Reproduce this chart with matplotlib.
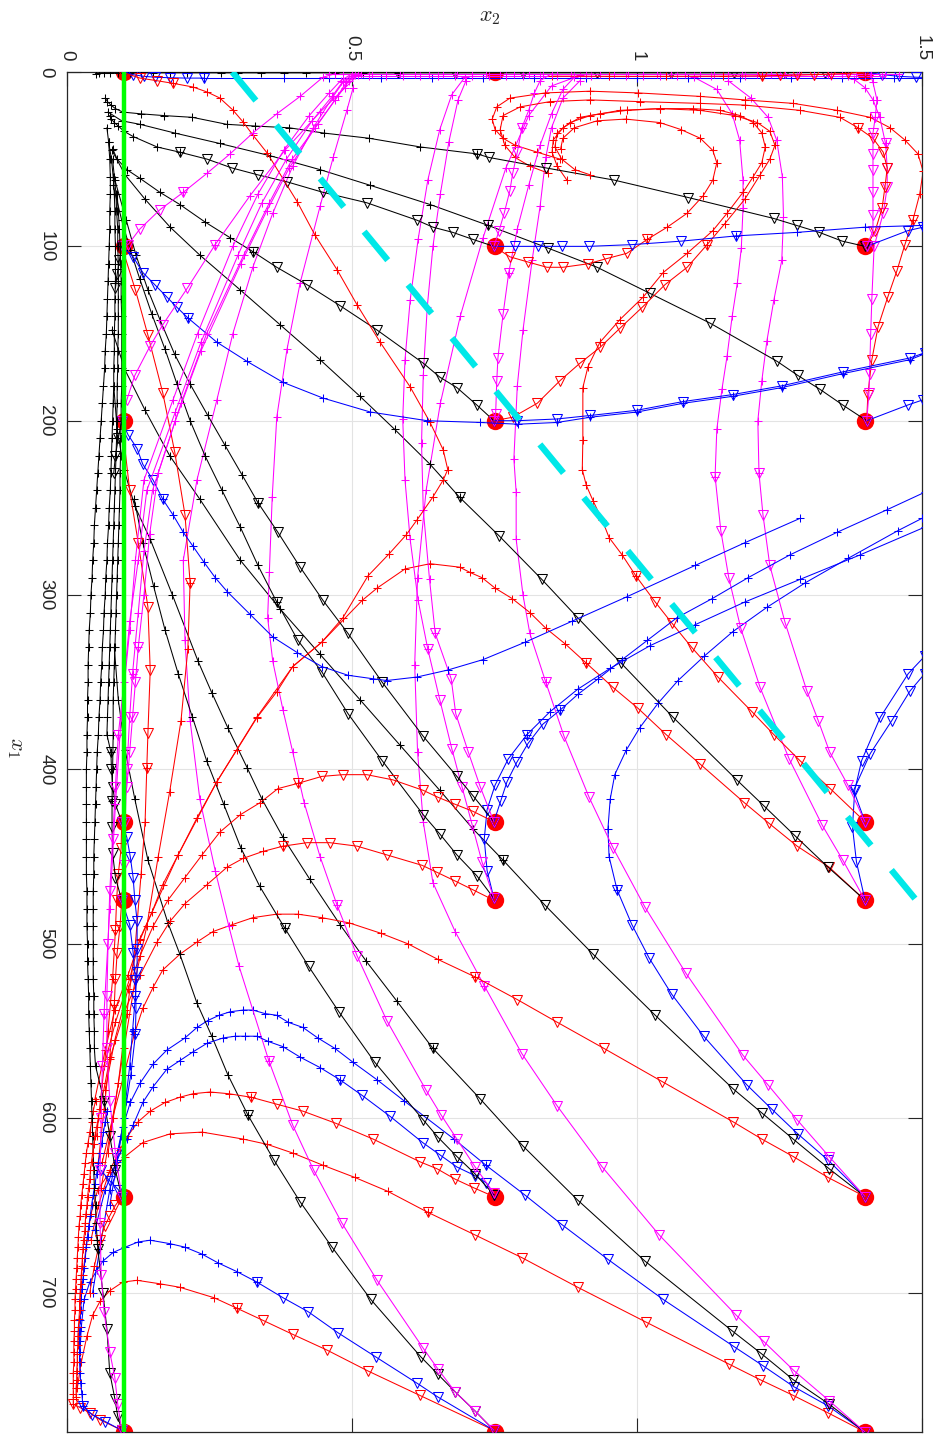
import matplotlib.pyplot as plt
import numpy as np

# start points (x1, x2): every combination is marked with a red dot
start_x1 = [0, 100, 200, 430, 475, 645, 780]
start_x2 = [0.1, 0.75, 1.4]

green_x1 = [0, 780]
green_x2 = [0.1, 0.1]
cyan_x1 = [0, 475]
cyan_x2 = [0.29, 1.49]

# ---- trajectories: (x1, x2) points, "_v" part drawn with triangles, "_p" part with plus ----
# column x2 = 1.4
a780_red_v = [(780, 1.40), (769, 1.335), (759, 1.274), (750, 1.216), (741, 1.161), (717, 1.016), (697, 0.896), (680, 0.798), (667, 0.716), (654, 0.633)]
a780_red_p = [(654, 0.633), (642, 0.563), (634, 0.505), (627, 0.449), (620, 0.396), (615, 0.351), (612, 0.309), (608, 0.237), (609, 0.181), (614, 0.133), (622, 0.102), (631, 0.075), (641, 0.054), (655, 0.042), (672, 0.034), (690, 0.028)]
a780_blue_v = [(780, 1.40), (765, 1.335), (754, 1.275), (742, 1.221), (731, 1.170), (704, 1.046), (681, 0.949), (661, 0.868), (644, 0.803), (627, 0.735)]
a780_blue_p = [(627, 0.735), (612, 0.679), (590, 0.591), (578, 0.544), (568, 0.502), (560, 0.470), (554, 0.440), (548, 0.414), (545, 0.388), (541, 0.368), (540, 0.347), (538, 0.326), (538, 0.309), (539, 0.286), (541, 0.267), (544, 0.247), (548, 0.228), (554, 0.207), (561, 0.175), (569, 0.151), (580, 0.128), (591, 0.111), (605, 0.098), (620, 0.088), (641, 0.075), (670, 0.060), (700, 0.045)]
a780_blk_v = [(780, 1.40), (764, 1.337), (750, 1.274), (735, 1.218), (722, 1.167), (682, 1.014), (647, 0.896), (616, 0.800), (589, 0.725), (560, 0.642)]
a780_blk_p = [(560, 0.642), (533, 0.579), (510, 0.525), (489, 0.479), (463, 0.426), (439, 0.379), (417, 0.342), (399, 0.316), (376, 0.282), (356, 0.254), (338, 0.230), (300, 0.185), (268, 0.146), (249, 0.119), (228, 0.100), (205, 0.088), (180, 0.082)]
a780_mag_v = [(780, 1.40), (762, 1.337), (745, 1.276), (728, 1.222), (713, 1.174), (667, 1.039), (628, 0.939), (593, 0.860), (563, 0.798), (524, 0.732)]
a780_mag_p = [(524, 0.732), (493, 0.681), (465, 0.642), (430, 0.625), (390, 0.615), (340, 0.610), (290, 0.615), (240, 0.630), (190, 0.655), (140, 0.690), (95, 0.730), (55, 0.770), (25, 0.810), (8, 0.850), (2, 0.900)]

a645_red_v = [(645, 1.40), (634, 1.335), (622, 1.274), (612, 1.219), (602, 1.168), (579, 1.044), (560, 0.942), (545, 0.860), (532, 0.790), (519, 0.716)]
a645_red_p = [(519, 0.716), (509, 0.651), (500, 0.598), (494, 0.551), (488, 0.495), (485, 0.447), (483, 0.405), (483, 0.368), (485, 0.326), (489, 0.290), (493, 0.256), (499, 0.228), (506, 0.198), (515, 0.168), (525, 0.151), (537, 0.133), (552, 0.118), (575, 0.100), (600, 0.080), (625, 0.062)]
a645_blue_v = [(645, 1.40), (624, 1.335), (609, 1.282), (595, 1.237), (581, 1.193), (553, 1.117), (529, 1.061), (508, 1.021), (489, 0.991), (469, 0.965)]
a645_blue_p = [(469, 0.965), (450, 0.951), (434, 0.949), (417, 0.953), (403, 0.961), (389, 0.981), (376, 1.005), (362, 1.037), (349, 1.072), (335, 1.118), (321, 1.168), (307, 1.228), (293, 1.295), (279, 1.370), (263, 1.458), (256, 1.500)]
a645_blk_v = [(645, 1.40), (629, 1.337), (612, 1.274), (597, 1.219), (583, 1.168), (541, 1.032), (506, 0.923), (478, 0.839), (452, 0.765)]
a645_blk_p = [(452, 0.765), (434, 0.712), (412, 0.654), (386, 0.584), (360, 0.514), (334, 0.444), (308, 0.374), (280, 0.304), (245, 0.233), (220, 0.180), (194, 0.137), (171, 0.102), (148, 0.079)]
a645_mag_v = [(645, 1.40), (622, 1.337), (601, 1.281), (581, 1.230), (564, 1.186), (517, 1.086), (479, 1.014), (445, 0.958), (416, 0.916), (381, 0.872), (350, 0.840)]
a645_mag_p = [(350, 0.840), (322, 0.812), (300, 0.800), (268, 0.788), (241, 0.788), (222, 0.784), (180, 0.790), (148, 0.800), (108, 0.816), (77, 0.830), (49, 0.840), (32, 0.850), (15, 0.870), (5, 0.900)]

a475_red_v = [(475, 1.40), (456, 1.337), (444, 1.281), (431, 1.232), (419, 1.188), (397, 1.111), (380, 1.051), (365, 1.002), (353, 0.958), (339, 0.911)]
a475_red_p = [(339, 0.911), (328, 0.874), (319, 0.840), (310, 0.812), (302, 0.781), (296, 0.751), (290, 0.728), (287, 0.707), (284, 0.689), (282, 0.637), (285, 0.593), (296, 0.544), (303, 0.518), (327, 0.447), (341, 0.396), (370, 0.333), (407, 0.263), (449, 0.195), (497, 0.128), (520, 0.110), (545, 0.085), (570, 0.065)]
a475_blue_v = [(475, 1.40), (453, 1.385), (433, 1.378), (412, 1.382), (395, 1.394), (370, 1.427), (345, 1.476), (335, 1.505)]
a475_blk_v = [(475, 1.40), (456, 1.335), (438, 1.277), (421, 1.223), (406, 1.175), (370, 1.063), (339, 0.972), (313, 0.896), (291, 0.833), (266, 0.758), (244, 0.689)]
a475_blk_p = [(244, 0.689), (225, 0.637), (205, 0.575), (186, 0.514), (165, 0.444), (145, 0.374), (125, 0.304), (105, 0.233), (89, 0.181), (73, 0.137), (59, 0.102), (45, 0.079)]
a475_mag_v = [(475, 1.40), (452, 1.361), (432, 1.325), (394, 1.267), (353, 1.216), (319, 1.182), (290, 1.161), (263, 1.147), (232, 1.137)]
a475_mag_p = [(232, 1.137), (205, 1.140), (182, 1.149), (163, 1.158), (140, 1.167), (121, 1.176), (101, 1.183), (78, 1.186), (62, 1.186), (39, 1.180), (24, 1.167), (10, 1.140), (3, 1.100)]

a430_red_v = [(430, 1.40), (411, 1.339), (395, 1.286), (380, 1.240), (367, 1.202), (347, 1.142), (330, 1.096), (316, 1.061), (304, 1.032), (289, 0.998)]
a430_red_p = [(289, 0.998), (277, 0.974), (267, 0.951), (257, 0.939), (246, 0.923), (237, 0.911), (228, 0.904), (211, 0.905), (181, 0.905), (169, 0.914), (155, 0.935), (142, 0.970), (129, 1.011), (115, 1.046), (104, 1.088), (91, 1.133), (81, 1.158), (69, 1.186), (60, 1.204), (52, 1.219), (43, 1.225), (35, 1.219), (29, 1.204), (25, 1.181), (22, 1.146), (21, 1.098), (21, 1.040), (22, 0.982), (24, 0.935), (26, 0.900), (32, 0.870), (39, 0.853), (46, 0.851), (54, 0.860), (62, 0.877)]
a430_blue_v = [(430, 1.40), (412, 1.380), (391, 1.409), (372, 1.447), (355, 1.479), (345, 1.505)]
a430_mag_v = [(430, 1.40), (409, 1.370), (390, 1.338), (372, 1.318), (355, 1.298), (316, 1.260), (283, 1.233), (254, 1.221), (230, 1.214)]
a430_mag_p = [(230, 1.214), (200, 1.212), (177, 1.219), (154, 1.228), (131, 1.240), (108, 1.254), (83, 1.257), (60, 1.255), (39, 1.245), (26, 1.230), (15, 1.200), (5, 1.160)]

a200_red_v = [(200, 1.403), (185, 1.405), (165, 1.412), (146, 1.423), (129, 1.440), (114, 1.456), (99, 1.470), (85, 1.484)]
a200_red_p = [(85, 1.484), (70, 1.496), (57, 1.502), (47, 1.493), (39, 1.470), (32, 1.444), (26, 1.409), (22, 1.351), (18, 1.274), (16, 1.189), (14, 1.111), (12, 1.002), (11, 0.918), (12, 0.839), (15, 0.777), (20, 0.754), (27, 0.746), (33, 0.751), (38, 0.765), (42, 0.786), (46, 0.825), (50, 0.865)]
a200_blue_v = [(200, 1.403), (191, 1.475), (188, 1.502)]
a200_blk_v = [(200, 1.403), (191, 1.361), (182, 1.321), (174, 1.282), (166, 1.246), (144, 1.128), (127, 1.023), (112, 0.930), (101, 0.844), (88, 0.739)]
a200_blk_p = [(88, 0.739), (76, 0.637), (65, 0.532), (56, 0.444), (48, 0.356), (41, 0.268), (35, 0.189), (30, 0.128), (28, 0.096), (23, 0.072)]
a200_mag_v = [(200, 1.403), (184, 1.407), (173, 1.408), (150, 1.410), (130, 1.412), (100, 1.416), (81, 1.432), (66, 1.439), (55, 1.439), (41, 1.436)]
a200_mag_p = [(41, 1.436), (26, 1.426), (16, 1.414), (9, 1.400), (4, 1.380)]

a100_red_v = [(100, 1.403), (91, 1.418), (78, 1.430), (66, 1.435), (55, 1.439), (46, 1.432), (38, 1.414), (32, 1.388)]
a100_red_p = [(32, 1.388), (26, 1.356), (22, 1.286), (19, 1.190), (18, 1.111), (17, 1.005), (16, 0.918), (17, 0.847), (20, 0.795), (25, 0.765), (33, 0.760), (42, 0.768), (49, 0.786), (54, 0.812), (58, 0.844)]
a100_blue_v = [(100, 1.403), (91, 1.475), (89, 1.502)]
a100_blk_v = [(100, 1.40), (97, 1.36), (92, 1.32), (88, 1.28), (84, 1.24), (72, 1.09), (62, 0.96), (55, 0.84), (49, 0.74), (47, 0.72)]
a100_blk_p = [(47, 0.72), (43, 0.62), (38, 0.53), (35, 0.45), (32, 0.39), (31, 0.33), (30, 0.28), (26, 0.22), (25, 0.17), (24, 0.13), (23, 0.098), (21, 0.085), (19, 0.077), (17, 0.071), (15, 0.067)]
a100_mag_v = [(100, 1.403), (91, 1.414), (82, 1.414), (69, 1.414), (56, 1.414), (47, 1.414), (35, 1.414), (26, 1.418)]
a100_mag_p = [(26, 1.418), (16, 1.421), (6, 1.414), (1, 1.409)]

# along the top edge (x1 close to 0)
top_blk_v = [(0, 1.40), (0.3, 1.33), (0.4, 1.26), (0.5, 1.17), (0.5, 1.06), (0.5, 0.93), (0.5, 0.80), (0.5, 0.68), (0.5, 0.58)]
top_blk_p = [(0.5, 0.58), (0.5, 0.52), (0.5, 0.47), (0.5, 0.42), (0.5, 0.38), (0.5, 0.34), (0.5, 0.30), (0.5, 0.27), (0.5, 0.24), (0.5, 0.21), (0.5, 0.18), (0.5, 0.15), (0.5, 0.13), (0.5, 0.11), (0.5, 0.09), (0.6, 0.075), (0.7, 0.065), (0.8, 0.057), (1.0, 0.05)]
top_blue_v = [(0, 0.10), (1.5, 0.115), (2.5, 0.135), (3.0, 0.155), (3.3, 0.18), (3.5, 0.21), (3.5, 0.24)]
top_blue_p = [(3.5, 0.24), (3.5, 0.30), (3.5, 0.38), (3.5, 0.46), (3.5, 0.55), (3.5, 0.64), (3.5, 0.73), (3.5, 0.82), (3.5, 0.91), (3.5, 1.00), (3.5, 1.09), (3.5, 1.18), (3.5, 1.27), (3.5, 1.36), (3.5, 1.45), (3.5, 1.52)]
top_blue2_v = [(0, 1.40), (1.5, 1.43), (2.5, 1.46), (3.0, 1.49), (3.2, 1.52)]
top_mag1_p = [(1.0, 0.46), (1.0, 0.485), (1.0, 0.51), (1.0, 0.535), (1.0, 0.56), (1.0, 0.585), (1.0, 0.61), (1.0, 0.635), (1.0, 0.66), (1.0, 0.685), (1.0, 0.71), (1.0, 0.735), (1.0, 0.76), (1.0, 0.785), (1.0, 0.81), (1.0, 0.835), (1.0, 0.86), (1.0, 0.885), (1.0, 0.91), (1.0, 0.935), (1.0, 0.96), (1.0, 0.985), (1.0, 1.01), (1.0, 1.035), (1.0, 1.06), (1.0, 1.085), (1.0, 1.11), (1.0, 1.135), (1.0, 1.16), (1.0, 1.185), (1.0, 1.21), (1.0, 1.235), (1.0, 1.26), (1.0, 1.285), (1.0, 1.31), (1.0, 1.335), (1.0, 1.36), (1.0, 1.385), (1.0, 1.41), (1.0, 1.435), (1.0, 1.46)]
top_mag2_p = [(2.3, 0.50), (2.3, 0.53), (2.3, 0.56), (2.3, 0.59), (2.3, 0.62), (2.3, 0.65), (2.3, 0.68), (2.3, 0.71), (2.3, 0.74), (2.3, 0.77), (2.3, 0.80), (2.3, 0.83), (2.3, 0.86), (2.3, 0.89), (2.3, 0.92), (2.3, 0.95), (2.3, 0.98), (2.3, 1.01), (2.3, 1.04), (2.3, 1.07), (2.3, 1.10), (2.3, 1.13), (2.3, 1.16), (2.3, 1.19), (2.3, 1.22), (2.3, 1.25), (2.3, 1.28), (2.3, 1.31), (2.3, 1.34), (2.3, 1.37), (2.3, 1.40), (2.3, 1.43)]
top_red_v = [(0, 1.40), (0.8, 1.37), (1.2, 1.34), (1.5, 1.31), (1.8, 1.28), (2.0, 1.25), (2.2, 1.22)]
top_red_p = [(2.2, 1.22), (2.4, 1.15), (2.5, 1.05), (2.5, 0.95), (2.4, 0.85)]

# column x2 = 0.75
b780_red_v = [(779, 0.749), (759, 0.619), (745, 0.528), (733, 0.456), (724, 0.396), (716, 0.344), (709, 0.298)]
b780_red_p = [(709, 0.298), (703, 0.258), (697, 0.198), (695, 0.163), (693, 0.123), (694, 0.098), (699, 0.075), (705, 0.058), (713, 0.045), (725, 0.035), (740, 0.025), (755, 0.018)]
b780_blue_v = [(779, 0.749), (760, 0.651), (752, 0.614), (737, 0.542), (723, 0.475), (711, 0.423), (703, 0.379), (694, 0.333)]
b780_blue_p = [(694, 0.333), (688, 0.298), (683, 0.265), (678, 0.237), (674, 0.207), (672, 0.181), (670, 0.146), (671, 0.125), (674, 0.102), (677, 0.081), (682, 0.063), (687, 0.053), (694, 0.040), (704, 0.030), (720, 0.025), (740, 0.022)]
b780_blk_v = [(779, 0.749), (768, 0.716), (757, 0.681), (747, 0.651), (737, 0.621), (704, 0.533), (674, 0.465), (648, 0.409), (624, 0.363), (598, 0.317)]
b780_blk_p = [(598, 0.317), (575, 0.282), (553, 0.254), (534, 0.228), (506, 0.198), (488, 0.177), (452, 0.142), (417, 0.119), (389, 0.102), (360, 0.090), (330, 0.083)]
b780_mag_v = [(779, 0.749), (768, 0.716), (757, 0.681), (744, 0.651), (732, 0.625), (693, 0.544), (660, 0.482), (630, 0.433), (604, 0.396), (567, 0.354)]
b780_mag_p = [(567, 0.354), (513, 0.302), (490, 0.284), (458, 0.260), (417, 0.233), (372, 0.216), (326, 0.207), (280, 0.204), (234, 0.228), (188, 0.263), (150, 0.291), (112, 0.326), (81, 0.361), (54, 0.396), (32, 0.432), (14, 0.467), (6, 0.484), (2, 0.505)]

b645_red_v = [(645, 0.749), (640, 0.714), (635, 0.681), (629, 0.649), (625, 0.619), (612, 0.537), (603, 0.472), (596, 0.414), (592, 0.368), (588, 0.323)]
b645_red_p = [(588, 0.323), (586, 0.284), (585, 0.251), (586, 0.221), (588, 0.198), (591, 0.172), (596, 0.146), (602, 0.125), (610, 0.107), (618, 0.093), (630, 0.075), (650, 0.055), (670, 0.042)]
b645_blue_v = [(644, 0.749), (637, 0.735), (633, 0.716), (628, 0.684), (621, 0.654), (614, 0.624), (599, 0.567), (587, 0.518), (578, 0.479)]
b645_blue_p = [(578, 0.479), (571, 0.444), (565, 0.409), (559, 0.379), (556, 0.353), (553, 0.333), (553, 0.312), (553, 0.295), (554, 0.274), (557, 0.246), (562, 0.221), (567, 0.198), (572, 0.175), (582, 0.151), (591, 0.133), (604, 0.116), (612, 0.105), (624, 0.088), (641, 0.067), (664, 0.049)]
b645_blk_v = [(644, 0.749), (632, 0.716), (622, 0.684), (611, 0.651), (601, 0.625), (568, 0.540), (539, 0.477), (513, 0.424), (491, 0.382)]
b645_blk_p = [(491, 0.382), (467, 0.338), (445, 0.305), (420, 0.275), (395, 0.245), (370, 0.220), (345, 0.195), (320, 0.172), (295, 0.152), (270, 0.133), (245, 0.118)]
b645_mag_v = [(643, 0.749), (628, 0.716), (612, 0.684), (598, 0.656), (584, 0.630), (544, 0.561), (507, 0.509), (478, 0.474)]
b645_mag_p = [(478, 0.474), (450, 0.444), (419, 0.416), (390, 0.396), (366, 0.379), (338, 0.361), (313, 0.352), (287, 0.355), (244, 0.360), (198, 0.368), (159, 0.386), (121, 0.409), (77, 0.444), (49, 0.467), (22, 0.491), (9, 0.502)]

b475_red_v = [(475, 0.749), (469, 0.712), (464, 0.681), (459, 0.649), (455, 0.623), (449, 0.561), (444, 0.509), (442, 0.461), (442, 0.421), (444, 0.379)]
b475_red_p = [(444, 0.379), (447, 0.344), (451, 0.309), (456, 0.281), (466, 0.246), (477, 0.207), (487, 0.181), (499, 0.158), (518, 0.128), (538, 0.102), (566, 0.075), (595, 0.058)]
b475_blue_v = [(474, 0.749), (458, 0.737), (440, 0.732), (423, 0.737), (409, 0.751), (394, 0.774), (380, 0.807)]
b475_blue_p = [(380, 0.807), (367, 0.847), (354, 0.896), (342, 0.953), (329, 1.023), (317, 1.102), (304, 1.189), (291, 1.286), (277, 1.391), (261, 1.505)]
b475_blk_v = [(474, 0.749), (461, 0.719), (449, 0.684), (437, 0.654), (426, 0.625), (395, 0.553), (368, 0.493), (344, 0.447), (326, 0.405), (304, 0.368)]
b475_blk_p = [(304, 0.368), (283, 0.335), (261, 0.304), (240, 0.272), (220, 0.242), (200, 0.216), (179, 0.193), (159, 0.172), (139, 0.149), (119, 0.128), (102, 0.111), (85, 0.096), (65, 0.081)]
b475_mag_v = [(474, 0.749), (453, 0.728), (432, 0.711), (410, 0.693), (388, 0.675), (360, 0.654), (331, 0.633)]
b475_mag_p = [(331, 0.633), (303, 0.616), (268, 0.602), (234, 0.593), (199, 0.589), (165, 0.593), (131, 0.602), (96, 0.616), (62, 0.633), (33, 0.654), (13, 0.675), (3, 0.698)]

b430_red_v = [(430, 0.749), (424, 0.712), (420, 0.681), (416, 0.651), (412, 0.625), (406, 0.572), (403, 0.526), (403, 0.484), (404, 0.447), (408, 0.405)]
b430_red_p = [(408, 0.405), (411, 0.370), (419, 0.339), (426, 0.304), (436, 0.268), (449, 0.237), (462, 0.207), (475, 0.177), (490, 0.151), (507, 0.128), (526, 0.107), (555, 0.084), (584, 0.067)]
b430_blue_v = [(430, 0.749), (418, 0.761), (407, 0.772), (396, 0.789), (385, 0.809), (374, 0.835), (366, 0.865)]
b430_blue_p = [(366, 0.865), (357, 0.896), (348, 0.932), (337, 0.974), (326, 1.018), (313, 1.070), (302, 1.132), (290, 1.195), (277, 1.268), (264, 1.351), (251, 1.439), (241, 1.505)]
b430_blk_v = [(430, 0.749), (415, 0.712), (404, 0.684), (381, 0.625), (350, 0.553), (322, 0.493), (303, 0.449), (284, 0.409), (264, 0.370), (247, 0.335)]
b430_blk_p = [(247, 0.335), (231, 0.307), (214, 0.277), (197, 0.247), (179, 0.216), (162, 0.189), (142, 0.163), (125, 0.142), (105, 0.121), (85, 0.104), (62, 0.084)]
b430_mag_v = [(430, 0.749), (410, 0.725), (390, 0.704), (368, 0.682), (348, 0.674), (322, 0.646)]
b430_mag_p = [(322, 0.646), (291, 0.636), (251, 0.625), (213, 0.622), (174, 0.625), (135, 0.632), (100, 0.642), (70, 0.655), (40, 0.670), (16, 0.686), (5, 0.700)]

b200_red_v = [(200, 0.749), (198, 0.782), (190, 0.825), (177, 0.865), (167, 0.900), (158, 0.935), (147, 0.970), (135, 1.009), (122, 1.049), (112, 1.088), (99, 1.123)]
b200_red_p = [(99, 1.123), (87, 1.154), (73, 1.189), (59, 1.216), (50, 1.233), (42, 1.242), (34, 1.233), (29, 1.211), (25, 1.172), (22, 1.111), (21, 1.040), (22, 0.970), (25, 0.918), (29, 0.882), (35, 0.860), (43, 0.856), (50, 0.868), (56, 0.891), (59, 0.918)]
b200_blue_v = [(200, 0.749), (200, 0.790), (199, 0.860), (197, 0.918), (194, 1.000), (189, 1.081), (185, 1.168), (180, 1.254), (172, 1.361), (164, 1.479), (161, 1.505)]
b200_blk_v = [(200, 0.749), (191, 0.719), (181, 0.684), (175, 0.654), (167, 0.625), (148, 0.544), (134, 0.479), (122, 0.421), (112, 0.368), (103, 0.326)]
b200_blk_p = [(103, 0.326), (95, 0.286), (86, 0.242), (76, 0.198), (69, 0.163), (61, 0.128), (56, 0.105), (50, 0.088), (44, 0.080)]
b200_mag_v = [(200, 0.749), (196, 0.752), (177, 0.754), (164, 0.756), (139, 0.765), (115, 0.775)]
b200_mag_p = [(115, 0.775), (90, 0.790), (65, 0.810), (42, 0.830), (24, 0.850), (10, 0.870), (3, 0.890)]

b100_red_v = [(100, 0.749), (106, 0.777), (109, 0.809), (112, 0.842), (112, 0.870), (110, 0.914), (107, 0.947), (104, 0.982), (96, 1.018)]
b100_red_p = [(96, 1.018), (89, 1.053), (81, 1.088), (71, 1.116), (62, 1.133), (52, 1.140), (45, 1.133), (38, 1.111), (33, 1.077), (29, 1.040), (27, 0.980), (28, 0.930), (32, 0.890), (38, 0.870), (44, 0.866)]
b100_blue_v = [(100, 0.749), (100, 0.786), (100, 0.827), (100, 0.868), (100, 0.915), (99, 0.991), (97, 1.078), (94, 1.174)]
b100_blue_p = [(94, 1.174), (92, 1.280), (89, 1.400), (88, 1.500)]
b100_blk_v = [(100, 0.749), (96, 0.712), (92, 0.677), (89, 0.642), (85, 0.614), (75, 0.526), (69, 0.449), (63, 0.386), (59, 0.335), (55, 0.289), (50, 0.246), (46, 0.198)]
b100_blk_p = [(46, 0.198), (43, 0.158), (37, 0.116), (34, 0.100), (31, 0.090), (29, 0.083), (27, 0.078), (25, 0.075)]
b100_mag_v = [(100, 0.749), (91, 0.758), (81, 0.767), (68, 0.777), (58, 0.782), (46, 0.790), (32, 0.798)]
b100_mag_p = [(32, 0.798), (22, 0.810), (12, 0.820), (5, 0.830), (1, 0.850)]

# column x2 = 0.1
c0_red_v = [(0, 0.096), (3.5, 0.128), (5, 0.158), (6.5, 0.186)]
c0_red_p = [(6.5, 0.186), (8.6, 0.221), (11.5, 0.246), (14.9, 0.268), (21.8, 0.291), (28.7, 0.309), (36.1, 0.326), (46.4, 0.351), (74.5, 0.404), (93.5, 0.435), (113.5, 0.474), (133.6, 0.509), (154.8, 0.549), (180.6, 0.602), (201, 0.637), (216.7, 0.660), (228, 0.668), (234, 0.660), (243.7, 0.642), (256.9, 0.614), (265.5, 0.595), (276.4, 0.565), (289, 0.528), (313, 0.484), (327, 0.447), (341, 0.396), (355.5, 0.368), (370.4, 0.333), (388.8, 0.298), (407, 0.263), (427.8, 0.228), (449, 0.195), (466, 0.168), (482, 0.149), (497.7, 0.128), (518, 0.107), (538, 0.084), (561, 0.067), (589, 0.049)]

c100_red_v = [(100, 0.096), (125, 0.120), (151, 0.142), (184, 0.168), (218, 0.189), (254, 0.207), (293, 0.216)]
c100_red_p = [(293, 0.216), (331, 0.212), (372, 0.200), (413, 0.180), (450, 0.160), (490, 0.140), (520, 0.120), (560, 0.100), (600, 0.080), (640, 0.060)]
c100_blue_v = [(100, 0.096), (106, 0.116), (115, 0.133), (122, 0.154), (129, 0.175), (135, 0.193), (141, 0.212)]
c100_blue_p = [(141, 0.212), (155, 0.263), (166, 0.316), (178, 0.379), (187, 0.449), (195, 0.532), (200, 0.632), (201, 0.725), (202, 0.791), (201, 0.860), (198, 0.918), (195, 1.000), (190, 1.081), (186, 1.168), (181, 1.254), (173, 1.361), (165, 1.479), (162, 1.502)]
c100_blk_v = [(100, 0.096), (108, 0.092), (116, 0.088), (124, 0.085)]
c100_mag_v = [(100, 0.096), (99, 0.107), (90, 0.128), (79, 0.163), (69, 0.204)]
c100_mag_p = [(69, 0.204), (58, 0.246), (47, 0.286), (35, 0.326), (24, 0.368), (14, 0.409), (3, 0.449), (1, 0.470)]

c200_red_v = [(200, 0.096), (240, 0.110), (270, 0.125), (307, 0.142), (343, 0.146), (379, 0.142), (399, 0.140)]
c200_red_p = [(399, 0.140), (430, 0.137), (460, 0.130), (500, 0.120), (540, 0.105), (580, 0.090), (620, 0.072)]
c200_blue_v = [(200, 0.096), (208, 0.107), (216, 0.123), (225, 0.133), (234, 0.151), (245, 0.168)]
c200_blue_p = [(245, 0.168), (254, 0.186), (264, 0.204), (272, 0.221), (281, 0.240), (290, 0.260), (298, 0.281), (311, 0.321), (324, 0.361), (333, 0.404), (341, 0.447), (346, 0.493), (348, 0.537), (349, 0.561), (347, 0.614), (343, 0.668), (337, 0.730), (327, 0.804), (315, 0.886), (301, 0.982), (283, 1.102), (270, 1.189), (256, 1.286)]
c200_blk_v = [(200, 0.096), (210, 0.090), (220, 0.085), (230, 0.082)]
c200_mag_v = [(200, 0.096), (188, 0.105), (174, 0.119), (157, 0.146), (145, 0.168), (124, 0.211), (99, 0.260)]
c200_mag_p = [(99, 0.260), (71, 0.321), (45, 0.382), (23, 0.444), (9, 0.488), (2, 0.510)]

c430_red_v = [(430, 0.096), (445, 0.095), (460, 0.090), (475, 0.087), (492, 0.085)]
c430_red_p = [(492, 0.085), (520, 0.080), (550, 0.072), (580, 0.062), (610, 0.052)]
c430_blue_v = [(430, 0.096), (439, 0.105), (450, 0.111), (462, 0.116), (475, 0.119), (487, 0.123), (503, 0.123), (516, 0.123), (530, 0.120)]
c430_blue_p = [(530, 0.120), (550, 0.115), (570, 0.110), (590, 0.103), (610, 0.095), (630, 0.085)]
c430_blk_v = [(430, 0.096), (420, 0.085), (410, 0.080), (400, 0.078), (390, 0.077)]
c430_mag_v = [(430, 0.096), (410, 0.105), (390, 0.110), (370, 0.115), (350, 0.120), (330, 0.125)]
c430_mag_p = [(330, 0.125), (300, 0.135), (265, 0.145), (230, 0.160), (190, 0.200), (150, 0.245), (105, 0.310), (75, 0.355), (50, 0.395), (30, 0.440), (14, 0.475), (5, 0.495), (1, 0.515)]

c475_red_v = [(475, 0.096), (490, 0.093), (505, 0.088), (520, 0.085), (535, 0.083)]
c475_red_p = [(535, 0.083), (565, 0.075), (595, 0.065), (625, 0.055)]
c475_blue_v = [(475, 0.096), (489, 0.110), (505, 0.116), (521, 0.120), (537, 0.121), (552, 0.120)]
c475_blue_p = [(552, 0.120), (575, 0.112), (600, 0.100), (625, 0.088), (650, 0.075)]
c475_blk_v = [(475, 0.096), (462, 0.085), (448, 0.080), (433, 0.079), (418, 0.079)]
c475_mag_v = [(475, 0.096), (455, 0.100), (430, 0.102), (400, 0.105), (370, 0.110), (345, 0.115)]
c475_mag_p = [(345, 0.115), (310, 0.125), (275, 0.135), (240, 0.150), (200, 0.190), (160, 0.235), (110, 0.305), (80, 0.350), (55, 0.390), (32, 0.435), (16, 0.470), (6, 0.490), (1, 0.510)]

c645_red_v = [(645, 0.096), (650, 0.085), (656, 0.075), (662, 0.066), (670, 0.058)]
c645_red_p = [(670, 0.058), (685, 0.048), (700, 0.040)]
c645_blue_v = [(645, 0.096), (641, 0.090), (636, 0.075), (630, 0.060)]
c645_blk_v = [(645, 0.096), (630, 0.085), (610, 0.075), (590, 0.065)]
c645_mag_v = [(645, 0.096), (620, 0.085), (590, 0.075), (560, 0.070), (530, 0.070), (500, 0.072), (470, 0.075), (440, 0.080), (410, 0.085), (380, 0.090)]
c645_mag_p = [(380, 0.090), (350, 0.100), (315, 0.110), (280, 0.125), (240, 0.140), (195, 0.190), (155, 0.235), (105, 0.300), (75, 0.342), (50, 0.385), (28, 0.430), (14, 0.465), (5, 0.485), (1, 0.505)]

c780_red_v = [(779, 0.096), (773, 0.058), (769, 0.040), (766, 0.023), (764, 0.011)]
c780_red_p = [(764, 0.011), (758, 0.011), (752, 0.011), (746, 0.011), (740, 0.012), (734, 0.012), (728, 0.012), (722, 0.013), (716, 0.013), (710, 0.014), (704, 0.014), (698, 0.015), (692, 0.016), (686, 0.017), (680, 0.018), (674, 0.019), (668, 0.020), (662, 0.021), (656, 0.023), (650, 0.024), (644, 0.026), (638, 0.028), (632, 0.030), (626, 0.032), (620, 0.034), (614, 0.037), (608, 0.040), (602, 0.043), (596, 0.046), (590, 0.050)]
c780_blue_v = [(779, 0.096), (774, 0.067), (770, 0.044), (765, 0.028)]
c780_blue_p = [(765, 0.028), (758, 0.026), (752, 0.024), (746, 0.023), (740, 0.022), (734, 0.022), (728, 0.022), (722, 0.022), (716, 0.023), (710, 0.024), (704, 0.025), (698, 0.026), (692, 0.028), (686, 0.030), (680, 0.032), (674, 0.034), (668, 0.036), (662, 0.038), (656, 0.041), (650, 0.043), (644, 0.046), (638, 0.049), (632, 0.052), (626, 0.055), (620, 0.058), (614, 0.061), (608, 0.064), (602, 0.067), (596, 0.070)]
c780_blk_v = [(779, 0.096), (771, 0.089), (761, 0.084), (746, 0.075), (721, 0.070), (700, 0.063), (675, 0.054)]
c780_mag_v = [(779, 0.096), (764, 0.089), (749, 0.084), (734, 0.075), (711, 0.065), (690, 0.060), (660, 0.058), (630, 0.058), (600, 0.060), (570, 0.062), (540, 0.065)]
c780_mag_p = [(540, 0.065), (480, 0.075), (420, 0.085), (370, 0.095), (320, 0.110), (280, 0.120), (234, 0.135), (188, 0.186), (150, 0.229), (100, 0.291), (70, 0.335), (45, 0.380), (25, 0.425), (12, 0.460), (5, 0.480), (1, 0.500)]

# slow bands close to the left edge (markers pile up there)
band_k1 = [(675, 0.054), (670, 0.053), (660, 0.051), (650, 0.050), (640, 0.048), (630, 0.047), (620, 0.046), (610, 0.045), (600, 0.044), (590, 0.043), (580, 0.042), (570, 0.041), (560, 0.040), (550, 0.039), (540, 0.038), (530, 0.038), (520, 0.037), (510, 0.036), (500, 0.036), (490, 0.035), (480, 0.035), (470, 0.035), (460, 0.034), (450, 0.034), (440, 0.034), (430, 0.034), (420, 0.034), (410, 0.034), (400, 0.034), (390, 0.035), (380, 0.035), (370, 0.036), (360, 0.036), (350, 0.037), (340, 0.037), (330, 0.038), (320, 0.039), (310, 0.041), (300, 0.042), (290, 0.044), (280, 0.045), (270, 0.047), (260, 0.048), (250, 0.050), (240, 0.052), (230, 0.054), (220, 0.056), (210, 0.058), (200, 0.060), (190, 0.062), (180, 0.064), (170, 0.066), (160, 0.067), (150, 0.069), (140, 0.070), (130, 0.071), (120, 0.072), (110, 0.073), (100, 0.074), (90, 0.075), (80, 0.075), (70, 0.076), (60, 0.076), (50, 0.075), (40, 0.073), (32, 0.070)]
band_k2 = [(590, 0.065), (570, 0.050), (560, 0.048), (550, 0.048), (540, 0.047), (530, 0.047), (520, 0.046), (510, 0.046), (500, 0.046), (490, 0.046), (480, 0.046), (470, 0.046), (460, 0.047), (450, 0.047), (440, 0.048), (430, 0.049), (420, 0.050), (410, 0.051), (400, 0.052), (390, 0.053), (380, 0.055), (370, 0.056), (360, 0.058), (350, 0.059), (340, 0.061), (330, 0.062), (320, 0.064), (310, 0.065), (300, 0.067), (290, 0.068), (280, 0.070), (270, 0.071), (260, 0.073), (250, 0.074), (240, 0.076), (230, 0.077), (220, 0.078), (210, 0.079), (200, 0.080), (190, 0.081), (180, 0.082), (170, 0.082), (160, 0.083), (150, 0.083), (140, 0.084), (130, 0.084), (120, 0.085), (110, 0.085), (100, 0.085), (90, 0.084), (80, 0.084), (70, 0.083), (60, 0.081), (50, 0.078), (40, 0.073)]
band_k3 = [(390, 0.077), (380, 0.070), (370, 0.071), (360, 0.072), (350, 0.073), (340, 0.074), (330, 0.075), (320, 0.076), (310, 0.077), (300, 0.078), (290, 0.079), (280, 0.080), (270, 0.081), (260, 0.082), (250, 0.083), (240, 0.084), (230, 0.085), (220, 0.086), (210, 0.087), (200, 0.087), (190, 0.088), (180, 0.088), (170, 0.089), (160, 0.089), (150, 0.090), (140, 0.090), (130, 0.090), (120, 0.090), (110, 0.090), (100, 0.089), (90, 0.089), (80, 0.087), (70, 0.086), (60, 0.083), (50, 0.080)]
band_k4 = [(418, 0.079), (400, 0.080), (380, 0.081), (360, 0.081), (350, 0.082), (340, 0.083), (330, 0.084), (320, 0.085), (310, 0.086), (300, 0.087), (290, 0.088), (280, 0.089), (270, 0.090), (260, 0.091), (250, 0.092), (240, 0.093), (230, 0.093), (220, 0.094), (210, 0.094), (200, 0.095), (190, 0.095), (180, 0.096), (170, 0.096), (160, 0.096), (150, 0.096), (140, 0.096), (130, 0.095), (120, 0.095), (110, 0.094), (100, 0.093), (90, 0.092), (80, 0.090), (70, 0.088)]
band_r2 = [(760, 0.016), (755, 0.016), (750, 0.017), (745, 0.017), (740, 0.018), (735, 0.018), (730, 0.019), (725, 0.019), (720, 0.020), (715, 0.021), (710, 0.022), (705, 0.022), (700, 0.023), (695, 0.024), (690, 0.025), (685, 0.026), (680, 0.027), (675, 0.028), (670, 0.029), (665, 0.031), (660, 0.032), (655, 0.033), (650, 0.035), (645, 0.036), (640, 0.038), (635, 0.040), (630, 0.041), (625, 0.043), (620, 0.045), (615, 0.047), (610, 0.049), (605, 0.052), (600, 0.055)]

trajectories = [
    ('r', a780_red_v, a780_red_p), ('b', a780_blue_v, a780_blue_p),
    ('k', a780_blk_v, a780_blk_p), ('m', a780_mag_v, a780_mag_p),
    ('r', a645_red_v, a645_red_p), ('b', a645_blue_v, a645_blue_p),
    ('k', a645_blk_v, a645_blk_p), ('m', a645_mag_v, a645_mag_p),
    ('r', a475_red_v, a475_red_p), ('b', a475_blue_v, []),
    ('k', a475_blk_v, a475_blk_p), ('m', a475_mag_v, a475_mag_p),
    ('r', a430_red_v, a430_red_p), ('b', a430_blue_v, []),
    ('m', a430_mag_v, a430_mag_p),
    ('r', a200_red_v, a200_red_p), ('b', a200_blue_v, []),
    ('k', a200_blk_v, a200_blk_p), ('m', a200_mag_v, a200_mag_p),
    ('r', a100_red_v, a100_red_p), ('b', a100_blue_v, []),
    ('k', a100_blk_v, a100_blk_p), ('m', a100_mag_v, a100_mag_p),
    ('k', top_blk_v, top_blk_p), ('b', top_blue_v, top_blue_p),
    ('b', top_blue2_v, []), ('m', [], top_mag1_p), ('m', [], top_mag2_p),
    ('r', top_red_v, top_red_p),
    ('r', b780_red_v, b780_red_p), ('b', b780_blue_v, b780_blue_p),
    ('k', b780_blk_v, b780_blk_p), ('m', b780_mag_v, b780_mag_p),
    ('r', b645_red_v, b645_red_p), ('b', b645_blue_v, b645_blue_p),
    ('k', b645_blk_v, b645_blk_p), ('m', b645_mag_v, b645_mag_p),
    ('r', b475_red_v, b475_red_p), ('b', b475_blue_v, b475_blue_p),
    ('k', b475_blk_v, b475_blk_p), ('m', b475_mag_v, b475_mag_p),
    ('r', b430_red_v, b430_red_p), ('b', b430_blue_v, b430_blue_p),
    ('k', b430_blk_v, b430_blk_p), ('m', b430_mag_v, b430_mag_p),
    ('r', b200_red_v, b200_red_p), ('b', b200_blue_v, []),
    ('k', b200_blk_v, b200_blk_p), ('m', b200_mag_v, b200_mag_p),
    ('r', b100_red_v, b100_red_p), ('b', b100_blue_v, b100_blue_p),
    ('k', b100_blk_v, b100_blk_p), ('m', b100_mag_v, b100_mag_p),
    ('r', c0_red_v, c0_red_p),
    ('r', c100_red_v, c100_red_p), ('b', c100_blue_v, c100_blue_p),
    ('k', c100_blk_v, []), ('m', c100_mag_v, c100_mag_p),
    ('r', c200_red_v, c200_red_p), ('b', c200_blue_v, c200_blue_p),
    ('k', c200_blk_v, []), ('m', c200_mag_v, c200_mag_p),
    ('r', c430_red_v, c430_red_p), ('b', c430_blue_v, c430_blue_p),
    ('k', c430_blk_v, band_k3), ('m', c430_mag_v, c430_mag_p),
    ('r', c475_red_v, c475_red_p), ('b', c475_blue_v, c475_blue_p),
    ('k', c475_blk_v, band_k4), ('m', c475_mag_v, c475_mag_p),
    ('r', c645_red_v, c645_red_p), ('b', c645_blue_v, []),
    ('k', c645_blk_v, band_k2), ('m', c645_mag_v, c645_mag_p),
    ('r', c780_red_v, c780_red_p), ('b', c780_blue_v, c780_blue_p),
    ('k', c780_blk_v, band_k1), ('m', c780_mag_v, c780_mag_p),
    ('r', [], band_r2),
]

COLORS = {'r': '#ff0000', 'b': '#0000ff', 'k': '#000000', 'm': '#ff00ff'}


def plot_part(ax, pts, color, marker, size):
    if not pts:
        return
    arr = np.array(pts, dtype=float)
    ax.plot(arr[:, 1], arr[:, 0], color=color, lw=0.75, marker=marker, ms=size,
            mfc='none', mec=color, mew=0.75, zorder=3)


def make_chart():
    plt.rcParams['font.family'] = ['Liberation Sans', 'DejaVu Sans']
    plt.rcParams['mathtext.fontset'] = 'cm'

    fig = plt.figure(figsize=(9.34, 14.41), dpi=100)
    ax = fig.add_axes([67 / 934, 1 - 1432 / 1441, 855 / 934, 1360 / 1441])

    # red start markers underneath everything
    for x1 in start_x1:
        for x2 in start_x2:
            ax.plot(x2, x1, 'o', color='#ff0000', ms=12.5, mec='none', zorder=2)

    for c, v_pts, p_pts in trajectories:
        col = COLORS[c]
        plot_part(ax, v_pts, col, 'v', 6.5)
        plot_part(ax, p_pts, col, '+', 6)

    ax.plot(green_x2, green_x1, color='#00ff00', lw=3.2, zorder=5)
    ax.plot(cyan_x2, cyan_x1, color='#00e8e8', lw=4.6, dashes=(5.8, 5.0), zorder=5)

    ax.set_xlim(0, 1.5)
    ax.set_ylim(780, 0)
    ax.set_xticks([0, 0.5, 1, 1.5])
    ax.set_xticklabels(['0', '0.5', '1', '1.5'])
    ax.set_yticks([0, 100, 200, 300, 400, 500, 600, 700])
    ax.xaxis.tick_top()
    ax.tick_params(direction='in', length=10, width=0.8, color='#262626',
                   top=True, bottom=True, left=True, right=True,
                   labeltop=True, labelbottom=False, labelsize=13.5, labelcolor='#262626')
    ax.tick_params(axis='x', labelrotation=-90, pad=8)
    ax.tick_params(axis='y', labelrotation=-90, pad=9)
    for lab in ax.get_yticklabels():
        lab.set_va('center')
    ax.grid(True, color='#e3e3e3', lw=0.8)
    ax.set_axisbelow(True)
    for sp in ax.spines.values():
        sp.set_color('#262626')
        sp.set_linewidth(0.9)

    fig.text(490 / 934, 1 - 17 / 1441, '$x_2$', ha='center', va='center', fontsize=16, color='#262626')
    fig.text(15 / 934, 1 - 748 / 1441, '$x_1$', ha='center', va='center', rotation=-90,
             fontsize=16, color='#262626')

    fig.savefig('out.png', dpi=100)


if __name__ == '__main__':
    make_chart()
